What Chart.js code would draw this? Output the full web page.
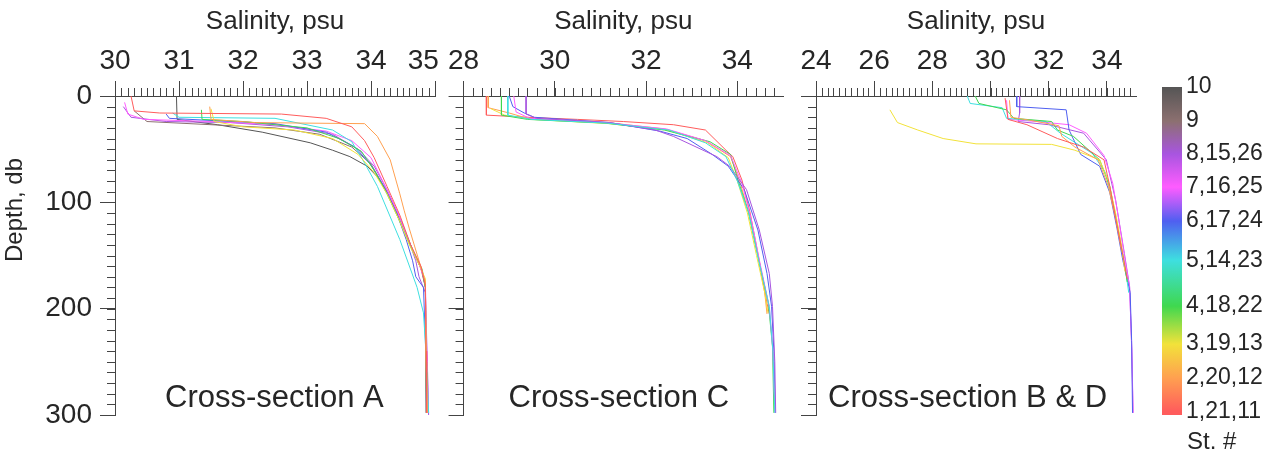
<!DOCTYPE html>
<html>
<head>
<meta charset="utf-8">
<script src="https://cdn.jsdelivr.net/npm/chart.js@4/dist/chart.umd.min.js"></script>
<style>
  body { margin: 0; background: #fff; }
  #wrap { position: relative; width: 1271px; height: 452px; }
  .panel { position: absolute; top: 0; height: 452px; }
</style>
</head>
<body>
<div id="wrap">
  <div class="panel" style="left:0;width:470px"><canvas id="chartA"></canvas></div>
  <div class="panel" style="left:445px;width:345px"><canvas id="chartC"></canvas></div>
  <div class="panel" style="left:790px;width:355px"><canvas id="chartBD"></canvas></div>
  <div class="panel" style="left:1145px;width:126px"><canvas id="chartBar"></canvas></div>
</div>
<script>
// station colour scale (1..10) and its labels
const stationColors = ['#ff5c5c', '#ffa050', '#f2e23a', '#3fd84f', '#3edfe0', '#4f5ff0', '#ff5cff', '#a855e0', '#8c7070', '#555555'];
const stationLabels = ['1,21,11', '2,20,12', '3,19,13', '4,18,22', '5,14,23', '6,17,24', '7,16,25', '8,15,26', '9', '10'];

// tick labels
const depthTicks = [0, 100, 200, 300];
const salTicksA = [30, 31, 32, 33, 34, 35];
const salTicksC = [28, 30, 32, 34];
const salTicksBD = [24, 26, 28, 30, 32, 34];

// profiles: [salinity, depth]
// cross-section A
const st1A = [[30.25,0],[30.3,14],[30.7,16],[32.6,17],[33.3,21],[33.7,29],[33.9,42],[34.05,58],[34.25,85],[34.45,112],[34.62,140],[34.78,160],[34.85,178],[34.86,240],[34.87,298]];
const st2A = [[31.48,10],[31.5,22],[32.2,25],[33.0,25.5],[33.9,26],[34.1,38],[34.3,60],[34.45,92],[34.52,108],[34.6,125],[34.75,155],[34.85,175],[34.86,250],[34.87,298]];
const st3A = [[31.5,12],[31.55,24],[32.0,29],[32.8,32],[33.4,40],[33.8,55],[34.05,72],[34.25,92],[34.45,118],[34.6,140],[34.75,158],[34.85,172],[34.86,240],[34.88,298]];
const st4A = [[31.35,13],[31.36,22],[32.0,24],[33.0,30],[33.5,40],[33.85,52],[34.05,70],[34.25,92],[34.45,118],[34.62,142],[34.8,163],[34.85,180],[34.86,260],[34.87,298]];
const st5A = [[30.9,16],[31.0,20],[32.5,21],[33.4,32],[33.7,43],[33.9,63],[34.1,85],[34.45,135],[34.72,180],[34.82,204],[34.87,251],[34.9,298]];
const st6A = [[30.8,17],[30.85,21],[31.5,23],[32.5,26],[33.3,34],[33.75,48],[34.0,65],[34.2,85],[34.4,110],[34.55,135],[34.65,155],[34.7,170],[34.82,180],[34.85,230],[34.87,298]];
const st7A = [[30.15,6],[30.2,17],[30.45,22],[31.5,24],[32.5,27],[33.3,33],[33.7,42],[34.0,58],[34.2,82],[34.42,110],[34.6,138],[34.75,158],[34.85,175],[34.87,240],[34.9,298]];
const st8A = [[30.13,10],[30.25,20],[30.8,24],[31.8,25],[32.7,29],[33.4,36],[33.8,50],[34.05,66],[34.25,88],[34.45,115],[34.6,138],[34.7,155],[34.75,170],[34.85,185],[34.88,250],[34.9,300]];
const st9A = [[30.3,14],[30.5,24],[31.5,27],[32.5,30],[33.2,36],[33.7,48],[34.0,64],[34.25,90],[34.45,116],[34.62,140],[34.78,162],[34.85,180],[34.87,298]];
const st10A = [[30.96,0],[30.97,22],[31.6,27],[32.3,34],[33.05,44],[33.4,51],[33.67,57],[33.94,66],[34.1,76],[34.3,95],[34.5,122],[34.65,145],[34.8,165],[34.85,180],[34.86,298]];

// cross-section C
const st14C = [[28.97,0],[28.97,18],[29.5,22],[31.15,25.5],[32.5,32],[33.3,44],[33.75,57],[34.0,80],[34.25,110],[34.48,157],[34.7,198],[34.78,240],[34.82,298]];
const st15C = [[29.37,0],[29.37,17],[29.6,21],[31.2,25],[32.2,32],[32.6,38],[33.55,57],[33.83,66],[34.2,88],[34.48,126],[34.7,167],[34.77,198],[34.82,250],[34.84,298]];
const st16C = [[29.1,0],[29.15,15],[29.45,21],[31.1,25],[32.45,31],[33.3,42],[33.85,56],[34.1,82],[34.3,115],[34.5,158],[34.7,198],[34.78,240],[34.82,298]];
const st17C = [[29.0,0],[29.08,10],[29.33,16],[29.55,20],[31.2,25],[32.3,33],[32.9,40],[33.45,55],[33.8,66],[34.15,88],[34.45,126],[34.65,167],[34.75,198],[34.8,240],[34.83,298]];
const st18C = [[28.83,0],[28.83,18],[29.4,22],[31.1,25.5],[32.4,32],[33.4,43],[33.85,55],[34.02,80],[34.25,110],[34.45,150],[34.68,195],[34.77,236],[34.8,298]];
const st19C = [[28.6,12],[28.9,18],[29.5,22],[31.2,26],[32.45,32],[33.35,44],[33.8,58],[34.0,80],[34.22,110],[34.42,150],[34.6,185],[34.67,204]];
const st20C = [[28.54,0],[28.54,11],[29.0,16],[29.4,21],[31.15,25],[32.4,31],[33.3,42],[33.85,57],[34.05,80],[34.25,110],[34.45,150],[34.6,185],[34.65,205]];
const st21C = [[28.5,0],[28.5,18],[29.4,20],[30.5,22],[31.5,24],[32.6,27],[33.3,32],[33.75,51],[33.9,57],[34.1,79],[34.28,110],[34.48,155],[34.65,195],[34.7,205]];

// cross-sections B & D
const st11BD = [[30.5,2],[30.6,22],[31.25,27],[32.3,40],[33.2,48],[33.9,60],[34.1,85],[34.3,115],[34.55,150],[34.7,172]];
const st12BD = [[30.65,4],[30.7,20],[31.4,23],[32.35,28],[32.45,38],[32.9,48],[33.7,60],[34.05,85],[34.3,115],[34.5,145]];
const st13BD = [[26.54,13],[26.8,25],[27.5,32],[28.37,40],[29.5,45],[32.1,45.5],[32.9,51],[33.75,60],[34.05,80],[34.3,110],[34.5,140],[34.62,165]];
const st22BD = [[29.47,0],[29.6,7],[30.55,13],[30.8,21],[32.1,24],[32.3,32],[32.85,38],[33.75,60],[34.1,85],[34.35,120],[34.55,150],[34.7,175]];
const st23BD = [[29.2,0],[29.3,7],[30.4,11],[30.55,21],[31.9,24],[32.4,35],[33.5,54],[33.95,72],[34.2,100],[34.45,135],[34.65,165],[34.75,185]];
const st24BD = [[30.9,0],[30.9,10],[32.6,13],[32.7,32],[33.1,55],[33.75,66],[34.1,91],[34.35,125],[34.55,155],[34.72,175],[34.8,185],[34.85,230],[34.88,298]];
const st25BD = [[30.55,4],[30.6,22],[31.6,24],[32.7,27],[33.3,35],[33.9,56],[34.2,82],[34.4,115],[34.6,150],[34.78,180],[34.86,240],[34.9,298]];
const st26BD = [[31.0,0],[31.0,16],[30.95,24],[32.0,27],[33.2,35],[33.98,60],[34.3,98],[34.6,148],[34.78,179],[34.85,236],[34.9,298]];

// which colour (station index 1..10) each profile uses
const profilesA = [[st1A,1],[st2A,2],[st3A,3],[st4A,4],[st5A,5],[st6A,6],[st7A,7],[st8A,8],[st9A,9],[st10A,10]];
const profilesC = [[st14C,5],[st15C,8],[st16C,7],[st17C,6],[st18C,4],[st19C,3],[st20C,2],[st21C,1]];
const profilesBD = [[st11BD,1],[st12BD,2],[st13BD,3],[st22BD,4],[st23BD,5],[st24BD,6],[st25BD,7],[st26BD,8]];

// colour bar tick positions (fraction of bar from bottom)
const barPos = [0.01, 0.113, 0.216, 0.332, 0.472, 0.591, 0.695, 0.796, 0.896, 1.0];

const fontFam = '"Liberation Sans", Arial, sans-serif';
const textColor = '#262626';
const axisColor = '#444';
Chart.defaults.font.family = fontFam;
Chart.defaults.color = textColor;

// minor ticks + panel caption
const decor = {
  id: 'decor',
  afterDraw(chart, args, opts) {
    const { ctx, chartArea } = chart;
    const xs = chart.scales.x, ys = chart.scales.y;
    ctx.save();
    ctx.strokeStyle = axisColor;
    ctx.lineWidth = 1;
    ctx.beginPath();
    const n = Math.round((xs.max - xs.min) / opts.minorStep);
    for (let i = 1; i < n; i++) {
      const px = Math.round(xs.getPixelForValue(xs.min + i * opts.minorStep)) + 0.5;
      ctx.moveTo(px, chartArea.top);
      ctx.lineTo(px, chartArea.top - 8);
    }
    for (let d = 10; d < ys.max; d += 10) {
      const py = Math.round(ys.getPixelForValue(d)) + 0.5;
      ctx.moveTo(chartArea.left, py);
      ctx.lineTo(chartArea.left - 8, py);
    }
    ctx.stroke();
    ctx.fillStyle = textColor;
    ctx.font = '31px ' + fontFam;
    ctx.textBaseline = 'alphabetic';
    ctx.fillText(opts.label, chartArea.left + opts.labelDx, chartArea.bottom - 8);
    if (opts.yTitle) {
      ctx.translate(15, 210);
      ctx.rotate(-Math.PI / 2);
      ctx.font = '24px ' + fontFam;
      ctx.textAlign = 'center';
      ctx.textBaseline = 'middle';
      ctx.fillText(opts.yTitle, 0, 0);
    }
    ctx.restore();
  }
};

function makePanel(id, profiles, xMin, xMax, xTicks, minorStep, yWidth, padRight, label, labelDx, showDepth) {
  new Chart(document.getElementById(id), {
    type: 'scatter',
    data: {
      datasets: profiles.map(([pts, st]) => ({
        data: pts.map(p => ({ x: p[0], y: p[1] })),
        showLine: true,
        borderColor: stationColors[st - 1],
        borderWidth: 1,
        pointRadius: 0,
        tension: 0
      }))
    },
    options: {
      responsive: true,
      maintainAspectRatio: false,
      animation: false,
      layout: { autoPadding: false, padding: { left: 0, top: 0, right: padRight, bottom: 37 } },
      plugins: {
        legend: { display: false },
        tooltip: { enabled: false },
        decor: { minorStep: minorStep, label: label, labelDx: labelDx, yTitle: showDepth ? 'Depth, db' : '' }
      },
      scales: {
        x: {
          type: 'linear',
          position: 'top',
          min: xMin,
          max: xMax,
          afterBuildTicks(s) { s.ticks = xTicks.map(v => ({ value: v })); },
          afterFit(s) { s.height = 96; },
          grid: { drawOnChartArea: false, tickLength: 15, color: axisColor },
          border: { display: true, color: axisColor },
          ticks: {
            padding: 3,
            font: { size: 28 },
            color: textColor,
            callback: v => (v === 35 ? '35   ' : String(v))
          },
          title: { display: true, text: 'Salinity, psu', font: { size: 26 }, color: textColor, padding: { top: 6, bottom: 0 } }
        },
        y: {
          type: 'linear',
          position: 'left',
          reverse: true,
          min: 0,
          max: 300,
          afterBuildTicks(s) { s.ticks = depthTicks.map(v => ({ value: v })); },
          afterFit(s) { s.width = yWidth; },
          grid: { drawOnChartArea: false, tickLength: 15, color: axisColor },
          border: { display: true, color: axisColor },
          ticks: {
            display: showDepth,
            padding: 8,
            font: { size: 28 },
            color: textColor
          }
        }
      }
    },
    plugins: [decor]
  });
}

makePanel('chartA', profilesA, 30, 35, salTicksA, 0.1, 115, 35, 'Cross-section A', 50, true);
makePanel('chartC', profilesC, 28, 35, salTicksC, 0.2, 17, 7, 'Cross-section C', 45, false);
makePanel('chartBD', profilesBD, 24, 35, salTicksBD, 0.2, 26, 9, 'Cross-section B & D', 12, false);

// colour bar
const stTitle = {
  id: 'stTitle',
  afterDraw(chart) {
    const { ctx, chartArea } = chart;
    ctx.save();
    ctx.fillStyle = textColor;
    ctx.font = '24px ' + fontFam;
    ctx.textBaseline = 'middle';
    ctx.fillText('St. #', chartArea.right + 5, chartArea.bottom + 27);
    ctx.restore();
  }
};

new Chart(document.getElementById('chartBar'), {
  type: 'bar',
  data: {
    labels: ['St'],
    datasets: [{
      data: [[0, 1]],
      borderWidth: 0,
      barPercentage: 1,
      categoryPercentage: 1,
      backgroundColor(c) {
        const area = c.chart.chartArea;
        if (!area) return stationColors[0];
        const g = c.chart.ctx.createLinearGradient(0, area.bottom, 0, area.top);
        barPos.forEach((p, i) => g.addColorStop(p, stationColors[i]));
        return g;
      }
    }]
  },
  options: {
    responsive: true,
    maintainAspectRatio: false,
    animation: false,
    layout: { autoPadding: false, padding: { left: 17, right: 0, top: 87, bottom: 37 } },
    plugins: { legend: { display: false }, tooltip: { enabled: false } },
    scales: {
      x: { display: false },
      y: {
        position: 'right',
        min: 0,
        max: 1,
        afterBuildTicks(s) { s.ticks = barPos.map(v => ({ value: v })); },
        afterFit(s) { s.width = 89; },
        grid: { display: false, drawTicks: false },
        border: { display: false },
        ticks: {
          autoSkip: false,
          padding: 4,
          font: { size: 23 },
          color: textColor,
          callback: (v, i) => stationLabels[i]
        }
      }
    }
  },
  plugins: [stTitle]
});
</script>
</body>
</html>
